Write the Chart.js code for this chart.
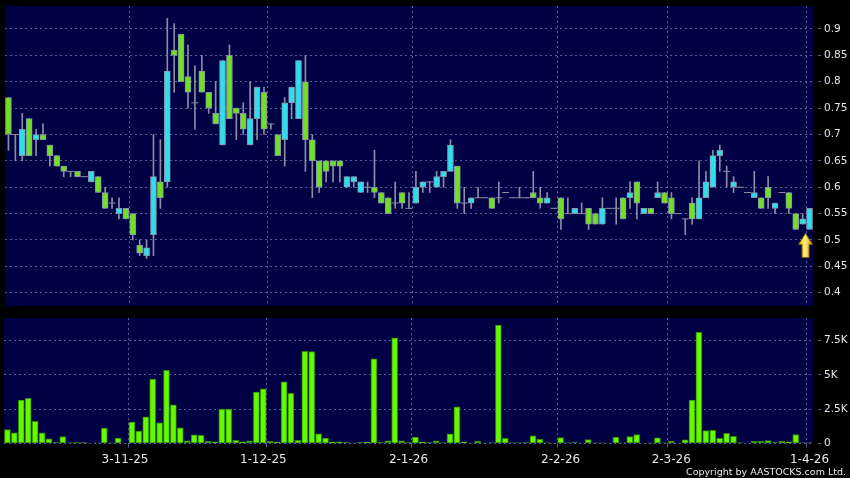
<!DOCTYPE html>
<html>
<head>
<meta charset="utf-8">
<title>Price / volume</title>
<script src="https://cdn.jsdelivr.net/npm/chart.js@4.4.1/dist/chart.umd.min.js"></script>
<style>
  html, body { margin: 0; padding: 0; background: #000; }
  body { width: 850px; height: 478px; position: relative; overflow: hidden; font-family: "DejaVu Sans", sans-serif; }
  #price-wrap { position: absolute; left: 0; top: 0; width: 850px; height: 312px; }
  #volume-wrap { position: absolute; left: 0; top: 312px; width: 850px; height: 166px; }
  #copyright { position: absolute; right: 4px; top: 466px; color: #e8e8e8; font-size: 9.5px; white-space: nowrap; }
</style>
</head>
<body>
<div id="price-wrap"><canvas id="chart-price" width="850" height="312"></canvas></div>
<div id="volume-wrap"><canvas id="chart-volume" width="850" height="166"></canvas></div>
<div id="copyright">Copyright by AASTOCKS.com Ltd.</div>
<script>
// daily candles, oldest first
const open = [
  0.77, 0.70, 0.66, 0.73, 0.69, 0.70, 0.68, 0.66, 0.64, 0.63,
  0.63, 0.62, 0.61, 0.62, 0.59, 0.57, 0.55, 0.56, 0.55, 0.49,
  0.47, 0.51, 0.61, 0.61, 0.86, 0.89, 0.81, 0.76, 0.82, 0.78,
  0.74, 0.68, 0.85, 0.75, 0.74, 0.68, 0.73, 0.78, 0.72, 0.70,
  0.69, 0.76, 0.73, 0.80, 0.69, 0.65, 0.65, 0.65, 0.65, 0.60,
  0.61, 0.59, 0.60, 0.60, 0.59, 0.58, 0.57, 0.59, 0.56, 0.57,
  0.60, 0.61, 0.60, 0.62, 0.63, 0.64, 0.57, 0.57, 0.58, 0.58,
  0.58, 0.58, 0.59, 0.58, 0.58, 0.58, 0.59, 0.58, 0.57, 0.56,
  0.58, 0.55, 0.55, 0.55, 0.56, 0.55, 0.53, 0.56, 0.56, 0.58,
  0.58, 0.61, 0.55, 0.56, 0.58, 0.59, 0.58, 0.55, 0.54, 0.57,
  0.54, 0.58, 0.60, 0.66, 0.63, 0.60, 0.60, 0.59, 0.58, 0.58,
  0.60, 0.56, 0.59, 0.59, 0.55, 0.53, 0.52
];
const high = [
  0.77, 0.70, 0.74, 0.73, 0.71, 0.72, 0.68, 0.66, 0.64, 0.63,
  0.63, 0.62, 0.63, 0.62, 0.60, 0.58, 0.58, 0.56, 0.55, 0.50,
  0.50, 0.70, 0.69, 0.92, 0.91, 0.89, 0.87, 0.83, 0.85, 0.78,
  0.80, 0.84, 0.87, 0.75, 0.76, 0.80, 0.79, 0.79, 0.72, 0.70,
  0.77, 0.79, 0.84, 0.85, 0.70, 0.65, 0.65, 0.65, 0.65, 0.62,
  0.62, 0.61, 0.61, 0.67, 0.59, 0.58, 0.61, 0.59, 0.59, 0.63,
  0.61, 0.61, 0.63, 0.63, 0.69, 0.64, 0.60, 0.58, 0.60, 0.58,
  0.58, 0.61, 0.59, 0.58, 0.60, 0.58, 0.63, 0.60, 0.59, 0.56,
  0.58, 0.58, 0.56, 0.57, 0.56, 0.55, 0.58, 0.56, 0.58, 0.58,
  0.61, 0.61, 0.56, 0.56, 0.61, 0.59, 0.59, 0.55, 0.54, 0.58,
  0.65, 0.63, 0.67, 0.68, 0.64, 0.62, 0.60, 0.59, 0.63, 0.58,
  0.62, 0.57, 0.59, 0.59, 0.55, 0.55, 0.56
];
const low = [
  0.67, 0.65, 0.65, 0.66, 0.66, 0.69, 0.64, 0.64, 0.62, 0.62,
  0.62, 0.62, 0.61, 0.59, 0.56, 0.56, 0.54, 0.54, 0.50, 0.47,
  0.465, 0.47, 0.56, 0.60, 0.78, 0.80, 0.75, 0.71, 0.78, 0.74,
  0.72, 0.68, 0.73, 0.69, 0.70, 0.68, 0.69, 0.70, 0.71, 0.66,
  0.64, 0.73, 0.73, 0.63, 0.58, 0.59, 0.61, 0.61, 0.61, 0.60,
  0.60, 0.59, 0.59, 0.58, 0.57, 0.55, 0.56, 0.56, 0.56, 0.57,
  0.59, 0.59, 0.60, 0.60, 0.63, 0.56, 0.55, 0.56, 0.58, 0.58,
  0.56, 0.57, 0.59, 0.58, 0.58, 0.58, 0.58, 0.56, 0.57, 0.56,
  0.52, 0.55, 0.55, 0.55, 0.52, 0.53, 0.53, 0.56, 0.53, 0.54,
  0.56, 0.54, 0.55, 0.55, 0.58, 0.57, 0.54, 0.55, 0.51, 0.53,
  0.54, 0.58, 0.60, 0.63, 0.60, 0.59, 0.60, 0.59, 0.58, 0.56,
  0.56, 0.55, 0.59, 0.55, 0.52, 0.53, 0.52
];
const close = [
  0.70, 0.70, 0.71, 0.66, 0.70, 0.69, 0.66, 0.64, 0.63, 0.63,
  0.62, 0.62, 0.63, 0.59, 0.56, 0.57, 0.56, 0.54, 0.51, 0.475,
  0.485, 0.62, 0.58, 0.82, 0.85, 0.80, 0.78, 0.76, 0.78, 0.75,
  0.72, 0.84, 0.73, 0.74, 0.71, 0.73, 0.79, 0.71, 0.72, 0.66,
  0.76, 0.79, 0.84, 0.69, 0.65, 0.60, 0.63, 0.64, 0.64, 0.62,
  0.62, 0.61, 0.60, 0.59, 0.57, 0.55, 0.57, 0.57, 0.56, 0.60,
  0.61, 0.61, 0.62, 0.63, 0.68, 0.57, 0.57, 0.58, 0.58, 0.58,
  0.56, 0.58, 0.59, 0.58, 0.58, 0.58, 0.58, 0.57, 0.58, 0.56,
  0.54, 0.55, 0.56, 0.55, 0.53, 0.53, 0.56, 0.56, 0.56, 0.54,
  0.59, 0.57, 0.56, 0.55, 0.59, 0.57, 0.55, 0.55, 0.54, 0.54,
  0.58, 0.61, 0.66, 0.67, 0.63, 0.61, 0.60, 0.59, 0.59, 0.56,
  0.58, 0.57, 0.59, 0.56, 0.52, 0.54, 0.56
];
const volume = [
  1020, 780, 3170, 3290, 1610, 780, 340, 70, 510, 50,
  60, 60, 0, 40, 1120, 40, 390, 0, 1560, 900,
  1950, 4700, 1510, 5340, 2820, 1140, 190, 630, 590, 170,
  120, 2510, 2510, 240, 120, 190, 3750, 3990, 150, 120,
  4500, 3660, 240, 6720, 6700, 700, 390, 120, 120, 70,
  30, 70, 90, 6180, 70, 190, 7720, 190, 60, 460,
  120, 70, 190, 50, 700, 2680, 120, 30, 170, 30,
  50, 8640, 370, 50, 50, 70, 560, 300, 50, 30,
  440, 50, 70, 30, 290, 40, 40, 0, 460, 40,
  510, 660, 0, 40, 410, 40, 170, 30, 260, 3170,
  8110, 950, 970, 370, 750, 530, 50, 0, 150, 150,
  220, 70, 150, 120, 660, 50, 50
];

// month gridlines (drawn on the left edge of these days) and date labels
const gridIdx = [18, 38, 59, 80, 96, 116];
const labelIdx = [17, 37, 58, 80, 96, 116];
const labelText = ["3-11-25", "1-12-25", "2-1-26", "2-2-26", "2-3-26", "1-4-26"];

const priceRange = [0.3748, 0.9436];
const priceTickValues = [0.4, 0.45, 0.5, 0.55, 0.6, 0.65, 0.7, 0.75, 0.8, 0.85, 0.9];
const volumeRange = [0, 9160];
const volumeTickValues = [0, 2500, 5000, 7500];

const NAVY = "#000044";
const GRID = "#5c5c90";
const WICK = "#8c8ca8";
const EDGE = "#8496a6";
const UP = "#33dcec";
const DOWN = "#72de26";
const VOL = "#66f800";
const VOL_EDGE = "#2e8a00";
const TEXT = "#e6e6e6";

const days = open.map((_, i) => String(i));

const panelBg = {
  id: "panelBg",
  beforeDraw(chart) {
    const { ctx, chartArea: a } = chart;
    ctx.save();
    ctx.fillStyle = NAVY;
    ctx.fillRect(a.left, a.top, a.right - a.left, a.bottom - a.top);
    ctx.restore();
  },
};

const lastArrow = {
  id: "lastArrow",
  afterDatasetsDraw(chart) {
    const n = open.length - 1;
    const x = chart.scales.x.getPixelForValue(n) - 4;
    const tip = chart.scales.y.getPixelForValue(low[n]) + 4;
    const { ctx } = chart;
    ctx.save();
    const g = ctx.createLinearGradient(x - 7, 0, x + 7, 0);
    g.addColorStop(0, "#f0b000");
    g.addColorStop(0.45, "#fff27a");
    g.addColorStop(1, "#d89000");
    ctx.fillStyle = g;
    ctx.strokeStyle = "#8a6400";
    ctx.lineWidth = 1;
    ctx.beginPath();
    ctx.moveTo(x, tip);
    ctx.lineTo(x + 7, tip + 11);
    ctx.lineTo(x + 3.5, tip + 11);
    ctx.lineTo(x + 3.5, tip + 24);
    ctx.lineTo(x - 3.5, tip + 24);
    ctx.lineTo(x - 3.5, tip + 11);
    ctx.lineTo(x - 7, tip + 11);
    ctx.closePath();
    ctx.fill();
    ctx.stroke();
    ctx.restore();
  },
};

function gridColor(ctx) {
  return gridIdx.includes(ctx.index) ? GRID : "transparent";
}

function isUp(i) {
  return close[i] >= open[i];
}

// fixed axis footprint so both panels line up with the picture
function fixWidth(s) {
  s.width = 37;
  s.paddingTop = 0;
  s.paddingBottom = 0;
}

function setTicks(values) {
  return (s) => {
    s.ticks = values.map((v) => ({ value: v }));
  };
}

function buildPriceChart() {
  const el = document.getElementById("chart-price");
  return new Chart(el, {
    type: "bar",
    data: {
      labels: days,
      datasets: [
        {
          label: "wick",
          data: low.map((l, i) => [l, high[i]]),
          backgroundColor: WICK,
          borderWidth: 0,
          barThickness: 1,
          grouped: false,
          order: 3,
        },
        {
          label: "body",
          data: open.map((o, i) => (o === close[i] ? null : [o, close[i]])),
          backgroundColor: (c) => (isUp(c.dataIndex) ? UP : DOWN),
          borderColor: EDGE,
          borderWidth: 1,
          borderSkipped: false,
          barThickness: 6,
          grouped: false,
          order: 2,
        },
        {
          type: "line",
          label: "doji",
          data: open.map((o, i) => (o === close[i] ? o : null)),
          showLine: false,
          pointStyle: "line",
          pointRadius: 3.5,
          pointBorderColor: WICK,
          pointBackgroundColor: WICK,
          pointBorderWidth: 1,
          order: 1,
        },
      ],
    },
    options: {
      responsive: false,
      animation: false,
      events: [],
      layout: { padding: { left: 4, top: 6, right: 0, bottom: 6 } },
      plugins: { legend: { display: false }, tooltip: { enabled: false } },
      scales: {
        x: {
          type: "category",
          offset: true,
          grid: { offset: true, color: gridColor, drawTicks: false },
          border: { display: false, dash: [2, 3] },
          ticks: { display: false, autoSkip: false },
          afterFit: (s) => {
            s.height = 0;
            s.paddingLeft = 0;
            s.paddingRight = 0;
          },
        },
        y: {
          position: "right",
          min: priceRange[0],
          max: priceRange[1],
          afterBuildTicks: setTicks(priceTickValues),
          grid: {
            color: GRID,
            tickColor: GRID,
            tickLength: 8,
            tickBorderDash: [3, 5],
            tickBorderDashOffset: 3,
          },
          border: { display: false, dash: [2, 3] },
          ticks: {
            padding: 3,
            color: TEXT,
            font: { family: "DejaVu Sans", size: 10.5 },
            callback: (v) => String(parseFloat(Number(v).toFixed(2))),
          },
          afterFit: fixWidth,
        },
      },
    },
    plugins: [panelBg, lastArrow],
  });
}

function buildVolumeChart() {
  const el = document.getElementById("chart-volume");
  return new Chart(el, {
    type: "bar",
    data: {
      labels: days,
      datasets: [
        {
          label: "Volume",
          data: volume,
          backgroundColor: VOL,
          borderColor: VOL_EDGE,
          borderWidth: 1,
          borderSkipped: false,
          barThickness: 6,
        },
      ],
    },
    options: {
      responsive: false,
      animation: false,
      events: [],
      layout: { padding: { left: 4, top: 6, right: 0, bottom: 0 } },
      plugins: { legend: { display: false }, tooltip: { enabled: false } },
      scales: {
        x: {
          type: "category",
          offset: true,
          grid: {
            offset: true,
            color: gridColor,
            tickColor: gridColor,
            tickLength: 4,
          },
          border: { display: false, dash: [2, 3] },
          ticks: {
            autoSkip: false,
            maxRotation: 0,
            padding: 5,
            color: TEXT,
            font: { family: "DejaVu Sans", size: 12 },
            callback: (v, i) => {
              const k = labelIdx.indexOf(i);
              return k >= 0 ? labelText[k] : "";
            },
          },
          afterFit: (s) => {
            s.height = 34.5;
            s.paddingLeft = 0;
            s.paddingRight = 0;
          },
        },
        y: {
          position: "right",
          min: volumeRange[0],
          max: volumeRange[1],
          afterBuildTicks: setTicks(volumeTickValues),
          grid: {
            color: GRID,
            tickColor: GRID,
            tickLength: 8,
            tickBorderDash: [3, 5],
            tickBorderDashOffset: 3,
          },
          border: { display: false, dash: [2, 3] },
          ticks: {
            padding: 3,
            color: TEXT,
            font: { family: "DejaVu Sans", size: 10.5 },
            callback: (v) => (v === 0 ? "0" : v / 1000 + "K"),
          },
          afterFit: fixWidth,
        },
      },
    },
    plugins: [panelBg],
  });
}

window.addEventListener("DOMContentLoaded", () => {
  buildPriceChart();
  buildVolumeChart();
});
</script>
</body>
</html>
